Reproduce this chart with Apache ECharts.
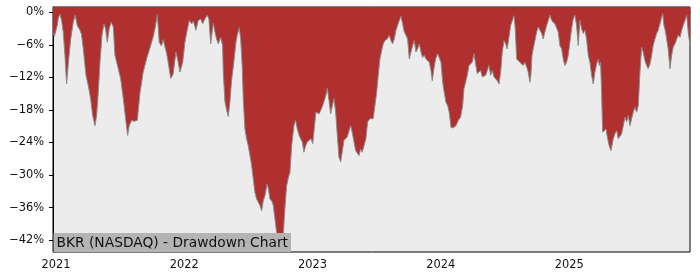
<!DOCTYPE html>
<html>
<head>
<meta charset="utf-8">
<script src="https://cdn.jsdelivr.net/npm/echarts@6/dist/echarts.min.js"></script>
<style>html,body{margin:0;padding:0;background:#fff}#c{width:700px;height:280px}</style>
</head>
<body>
<div id="c"></div>
<script>
// Dates as fractional years
const dates = [
2020.977,2020.988,2021.000,2021.010,2021.019,2021.031,2021.044,2021.057,2021.070,2021.083,2021.096,2021.115,2021.135,2021.150,2021.166,2021.187,2021.199,2021.213,2021.234,2021.252,2021.270,2021.286,2021.304,2021.317,2021.330,2021.343,2021.359,2021.374,2021.387,2021.400,2021.415,2021.431,2021.447,2021.460,2021.486,2021.504,2021.525,2021.546,2021.559,2021.571,2021.590,2021.608,2021.634,2021.655,2021.680,2021.707,2021.733,2021.758,2021.772,2021.790,2021.805,2021.822,2021.836,2021.850,2021.863,2021.875,2021.894,2021.904,2021.914,2021.935,2021.953,2021.966,2021.988,
2022.005,2022.023,2022.039,2022.058,2022.070,2022.079,2022.091,2022.109,2022.128,2022.143,2022.161,2022.179,2022.192,2022.206,2022.226,2022.239,2022.252,2022.265,2022.284,2022.299,2022.304,2022.317,2022.330,2022.343,2022.356,2022.369,2022.382,2022.403,2022.413,2022.429,2022.440,2022.452,2022.460,2022.473,2022.486,2022.499,2022.512,2022.525,2022.538,2022.551,2022.564,2022.577,2022.590,2022.603,2022.616,2022.629,2022.645,2022.656,2022.668,2022.684,2022.694,2022.707,2022.720,2022.733,2022.746,2022.761,2022.772,2022.785,2022.798,2022.811,2022.824,2022.837,2022.855,2022.868,2022.881,2022.896,2022.907,2022.920,2022.933,2022.946,2022.959,2022.974,2022.988,
2023.001,2023.013,2023.026,2023.040,2023.052,2023.065,2023.079,2023.091,2023.104,2023.115,2023.128,2023.141,2023.154,2023.167,2023.180,2023.193,2023.206,2023.219,2023.231,2023.245,2023.258,2023.270,2023.284,2023.297,2023.309,2023.323,2023.336,2023.348,2023.362,2023.375,2023.387,2023.401,2023.416,2023.429,2023.447,2023.473,2023.486,2023.500,2023.512,2023.525,2023.539,2023.551,2023.564,2023.582,2023.598,2023.611,2023.624,2023.637,2023.650,2023.663,2023.676,2023.689,2023.702,2023.715,2023.728,2023.741,2023.754,2023.767,2023.780,2023.793,2023.806,2023.819,2023.832,2023.845,2023.858,2023.871,2023.884,2023.897,2023.910,2023.923,2023.933,2023.946,2023.959,2023.975,2023.987,
2024.001,2024.014,2024.026,2024.040,2024.053,2024.065,2024.079,2024.097,2024.118,2024.136,2024.154,2024.170,2024.180,2024.193,2024.206,2024.219,2024.232,2024.245,2024.258,2024.271,2024.284,2024.297,2024.310,2024.323,2024.336,2024.349,2024.362,2024.375,2024.388,2024.401,2024.414,2024.427,2024.440,2024.453,2024.466,2024.479,2024.492,2024.505,2024.517,2024.531,2024.544,2024.556,2024.570,2024.580,2024.591,2024.603,2024.616,2024.630,2024.642,2024.655,2024.669,2024.681,2024.694,2024.702,2024.710,2024.720,2024.733,2024.747,2024.759,2024.772,2024.786,2024.798,2024.811,2024.825,2024.837,2024.850,2024.864,2024.876,2024.889,2024.903,2024.915,2024.928,2024.941,2024.954,2024.967,2024.980,2024.993,
2025.006,2025.019,2025.032,2025.045,2025.058,2025.071,2025.084,2025.097,2025.110,2025.123,2025.136,2025.149,2025.162,2025.175,2025.188,2025.201,2025.214,2025.227,2025.235,2025.245,2025.253,2025.261,2025.271,2025.287,2025.300,2025.312,2025.326,2025.344,2025.357,2025.370,2025.383,2025.396,2025.409,2025.422,2025.435,2025.448,2025.461,2025.474,2025.487,2025.500,2025.513,2025.526,2025.539,2025.552,2025.565,2025.577,2025.591,2025.604,2025.616,2025.630,2025.643,2025.655,2025.669,2025.682,2025.694,2025.708,2025.721,2025.729,2025.739,2025.749,2025.760,2025.772,2025.786,2025.799,2025.811,2025.825,2025.838,2025.850,2025.864,2025.877,2025.889,2025.902,2025.916,2025.928,2025.941
];
// Drawdown in percent
const drawdown = [
-3.8,-4.4,-4.7,-2.4,-1.0,-0.3,-1.5,-3.6,-7.9,-13.2,-9.5,-4.9,-1.8,-0.5,-2.4,-3.3,-4.0,-6.7,-11.6,-13.5,-15.9,-19.0,-20.9,-19.0,-14.7,-9.2,-4.2,-2.1,-3.0,-5.5,-3.0,-1.8,-2.7,-7.9,-10.4,-12.2,-15.9,-20.2,-22.7,-20.9,-19.9,-20.1,-19.9,-14.8,-11.0,-8.5,-6.5,-4.5,-3.0,-0.4,-5.5,-6.2,-5.0,-6.4,-7.6,-9.2,-12.2,-11.8,-11.3,-7.3,-9.2,-11.0,-9.2,
-5.5,-3.3,-1.5,-2.1,-1.6,-2.3,-3.3,-1.5,-1.2,-2.1,-1.2,-0.5,-1.2,-5.8,-2.0,-3.6,-4.9,-5.8,-4.6,-6.1,-11.0,-16.4,-18.0,-19.2,-16.5,-12.5,-10.1,-5.5,-4.2,-2.8,-5.0,-10.0,-16.0,-21.5,-23.3,-24.6,-26.4,-28.2,-30.7,-33.2,-34.4,-35.0,-35.6,-36.6,-34.7,-33.8,-31.7,-32.5,-34.4,-34.9,-35.6,-38.1,-40.6,-43.0,-43.8,-43.2,-41.0,-36.0,-32.0,-30.5,-29.5,-24.6,-20.9,-19.9,-21.5,-22.7,-23.3,-23.9,-25.8,-24.6,-23.9,-23.6,-23.3,
-24.2,-21.5,-18.4,-18.1,-18.7,-18.4,-17.2,-16.9,-15.3,-14.0,-16.2,-18.7,-17.2,-15.9,-18.4,-22.7,-26.7,-27.6,-25.8,-23.6,-23.3,-23.0,-22.7,-20.9,-22.1,-23.9,-25.5,-25.8,-26.4,-25.2,-25.8,-24.6,-23.3,-20.2,-19.6,-19.6,-17.2,-14.7,-11.6,-8.6,-7.0,-5.8,-5.2,-4.9,-4.2,-5.2,-5.8,-4.9,-3.3,-2.4,-1.5,-0.7,-2.1,-3.6,-4.2,-4.9,-8.6,-7.3,-6.1,-5.2,-7.3,-6.7,-5.8,-7.3,-8.3,-7.9,-8.6,-8.9,-9.2,-10.7,-12.6,-10.4,-8.6,-7.6,-7.9,
-9.2,-12.9,-14.7,-16.6,-17.2,-18.4,-21.2,-21.3,-20.9,-19.9,-19.3,-17.2,-14.1,-12.9,-11.6,-9.8,-9.7,-9.2,-7.6,-9.5,-11.3,-11.6,-10.7,-11.9,-12.2,-11.6,-11.3,-9.8,-11.6,-10.7,-11.9,-12.2,-12.6,-13.2,-11.0,-7.3,-5.2,-5.8,-6.7,-4.6,-2.4,-2.1,-0.6,-3.0,-8.6,-8.9,-9.2,-8.9,-9.8,-9.2,-10.1,-11.0,-12.9,-11.5,-8.0,-6.7,-6.4,-3.6,-2.7,-2.4,-3.9,-4.9,-3.6,-2.4,-1.5,-0.5,-1.5,-1.2,-2.1,-2.4,-3.6,-6.1,-6.7,-8.6,-9.8,-9.2,-7.9,
-5.5,-3.0,-1.2,-0.5,-2.4,-6.1,-1.5,-3.0,-3.9,-3.3,-4.9,-7.9,-9.2,-11.6,-13.2,-11.0,-9.5,-8.6,-9.8,-9.2,-14.7,-22.1,-22.4,-21.5,-23.3,-24.6,-25.5,-23.3,-22.4,-21.8,-23.3,-23.0,-22.4,-20.9,-19.3,-20.2,-19.0,-20.9,-19.6,-18.4,-17.5,-18.4,-17.2,-11.0,-6.4,-7.3,-8.9,-9.8,-10.4,-9.5,-7.9,-6.1,-4.9,-3.9,-3.3,-2.1,-0.9,-0.2,-2.4,-3.3,-3.6,-6.7,-10.4,-7.9,-6.4,-5.8,-5.5,-4.2,-4.6,-3.3,-2.4,-1.5,-0.5,-3.6,-6.0
];
const yTicks = [0, -6, -12, -18, -24, -30, -36, -42];
const xTicks = [2021, 2022, 2023, 2024, 2025];
const chartTitle = 'BKR (NASDAQ) - Drawdown Chart';

const seriesData = dates.map((d, i) => [d, drawdown[i]]);
const font = 'DejaVu Sans';
const chart = echarts.init(document.getElementById('c'), null, {renderer: 'canvas'});
chart.setOption({
  animation: false,
  backgroundColor: '#ffffff',
  title: {
    text: chartTitle,
    left: 53.5, top: 233,
    backgroundColor: '#b4b4b4',
    padding: [2, 3, 1, 3],
    textStyle: {fontFamily: font, fontSize: 13.8, fontWeight: 'normal', color: '#111', lineHeight: 16}
  },
  grid: {left: 53, right: 10, top: 7, bottom: 28, show: true, backgroundColor: '#ececec', borderColor: '#000', borderWidth: 1},
  xAxis: {
    type: 'value', min: 2020.977, max: 2025.942,
    axisLine: {show: true, lineStyle: {color: '#000', width: 1}},
    axisTick: {show: true, length: 4, lineStyle: {color: '#000'}, customValues: xTicks},
    axisLabel: {customValues: xTicks, fontFamily: font, fontSize: 11.4, color: '#111', margin: 8, formatter: v => String(Math.round(v))},
    splitLine: {show: false}
  },
  yAxis: {
    type: 'value', min: -44.2, max: 1.0,
    axisLine: {show: true, lineStyle: {color: '#000', width: 1}},
    axisTick: {show: true, length: 4, lineStyle: {color: '#000'}, customValues: yTicks},
    axisLabel: {customValues: yTicks, fontFamily: font, fontSize: 11.4, color: '#111', margin: 9,
      formatter: v => v === 0 ? '0%' : '\u2212' + Math.abs(Math.round(v)) + '%'},
    splitLine: {show: false}
  },
  series: [{
    type: 'line',
    data: seriesData,
    showSymbol: false,
    lineStyle: {color: '#8a8a8a', width: 1},
    areaStyle: {color: '#b03030', opacity: 1, origin: 'end'},
    z: 1
  }]
});
</script>
</body>
</html>
